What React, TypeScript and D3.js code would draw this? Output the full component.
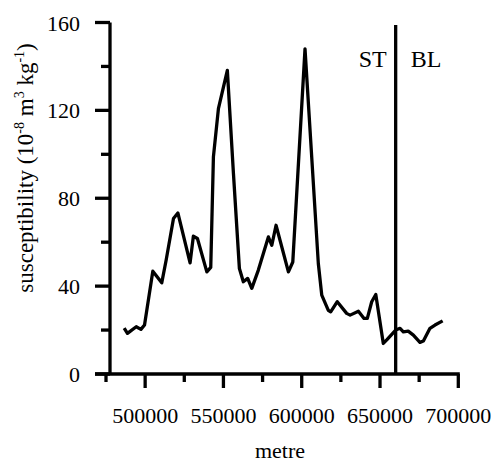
import React from "react";
import * as d3 from "d3";

const metres = [
  486600, 488700, 494300, 497300, 499600, 504900, 510600, 513400, 518100, 520900,
  528700, 530800, 533400, 539400, 541900, 543600, 546800, 552500, 556400, 560200,
  562700, 565500, 568100, 572300, 578700, 580900, 583600, 591500, 594300, 602100,
  610600, 612800, 617000, 618500, 622700, 628700, 630900, 636200, 639800, 641900,
  644700, 647300, 652100, 654300, 658100, 660000, 662800, 664900, 668000, 671300,
  675500, 677700, 681900, 685100, 690000,
];
const susceptibility = [
  20.9, 18.5, 21.5, 20.3, 22.3, 46.8, 41.5, 51.8, 70.8, 73.3,
  50.6, 62.7, 61.7, 46.5, 48.5, 98.8, 120.8, 138.2, 91.2, 48.0,
  42.0, 43.5, 39.0, 47.3, 62.4, 58.6, 67.7, 46.5, 51.0, 148.0,
  50.3, 35.9, 29.0, 28.3, 32.9, 27.6, 26.8, 28.6, 25.3, 25.3,
  32.9, 36.2, 13.9, 15.5, 18.5, 20.0, 20.8, 19.2, 19.5, 17.7,
  14.4, 15.0, 20.8, 22.3, 24.2,
];
const yMajorTicks = [0, 40, 80, 120, 160];
const yMinorTicks = [20, 60, 100, 140];
const xMajorTicks = [500000, 550000, 600000, 650000, 700000];
const xMinorTicks = [475000, 525000, 575000, 625000, 675000];
const boundary = 660000;
const leftZone = "ST";
const rightZone = "BL";
const xLabel = "metre";

export default function App() {
  const W = 491, H = 462;
  const x = d3.scaleLinear().domain([475000, 700000]).range([106, 458.3]);
  const y = d3.scaleLinear().domain([0, 160]).range([374, 22.5]);
  const axisX = 110;
  const pts = metres.map((m, i) => [m, susceptibility[i]] as [number, number]);
  const line = d3.line<[number, number]>().x(d => x(d[0])).y(d => y(d[1]))(pts) || "";
  const font = "'Liberation Serif', 'Times New Roman', serif";
  const sw = 3.3;
  return (
    <svg width={W} height={H} style={{ position: "absolute", left: 0, top: 0 }} fontFamily={font}>
      <rect width={W} height={H} fill="#fff" />
      {/* y axis */}
      <line x1={axisX} x2={axisX} y1={y(160)} y2={y(0)} stroke="#000" strokeWidth={sw} />
      {yMajorTicks.map(t => (
        <g key={"ym" + t}>
          <line x1={axisX - 15} x2={axisX} y1={y(t)} y2={y(t)} stroke="#000" strokeWidth={sw} />
          <text x={80} y={y(t) + 8} textAnchor="end" fontSize={22}>{t}</text>
        </g>
      ))}
      {yMinorTicks.map(t => (
        <line key={"yn" + t} x1={axisX - 9} x2={axisX} y1={y(t)} y2={y(t)} stroke="#000" strokeWidth={sw} />
      ))}
      {/* x axis */}
      <line x1={axisX - 15} x2={x(700000) + 1.5} y1={y(0)} y2={y(0)} stroke="#000" strokeWidth={sw} />
      {xMajorTicks.map(t => (
        <g key={"xm" + t}>
          <line x1={x(t)} x2={x(t)} y1={y(0)} y2={y(0) + 14} stroke="#000" strokeWidth={sw} />
          <text x={x(t)} y={423} textAnchor="middle" fontSize={22}>{t}</text>
        </g>
      ))}
      {xMinorTicks.map(t => (
        <line key={"xn" + t} x1={x(t)} x2={x(t)} y1={y(0)} y2={y(0) + 8} stroke="#000" strokeWidth={sw} />
      ))}
      <text x={280} y={458} textAnchor="middle" fontSize={22}>{xLabel}</text>
      <text transform={`translate(33,168) rotate(-90)`} textAnchor="middle" fontSize={23}>
        susceptibility (10<tspan fontSize={14} dy={-9}>-8</tspan>
        <tspan dy={9}> m</tspan><tspan fontSize={14} dy={-9}>3</tspan>
        <tspan dy={9}> kg</tspan><tspan fontSize={14} dy={-9}>-1</tspan>
        <tspan dy={9}>)</tspan>
      </text>
      {/* data line */}
      <path d={line} fill="none" stroke="#000" strokeWidth={sw} strokeLinejoin="round" />
      {/* boundary */}
      <line x1={x(boundary)} x2={x(boundary)} y1={25} y2={y(0)} stroke="#000" strokeWidth={sw} />
      <text x={x(boundary) - 9} y={67} textAnchor="end" fontSize={24}>{leftZone}</text>
      <text x={x(boundary) + 15} y={67} textAnchor="start" fontSize={24}>{rightZone}</text>
    </svg>
  );
}
